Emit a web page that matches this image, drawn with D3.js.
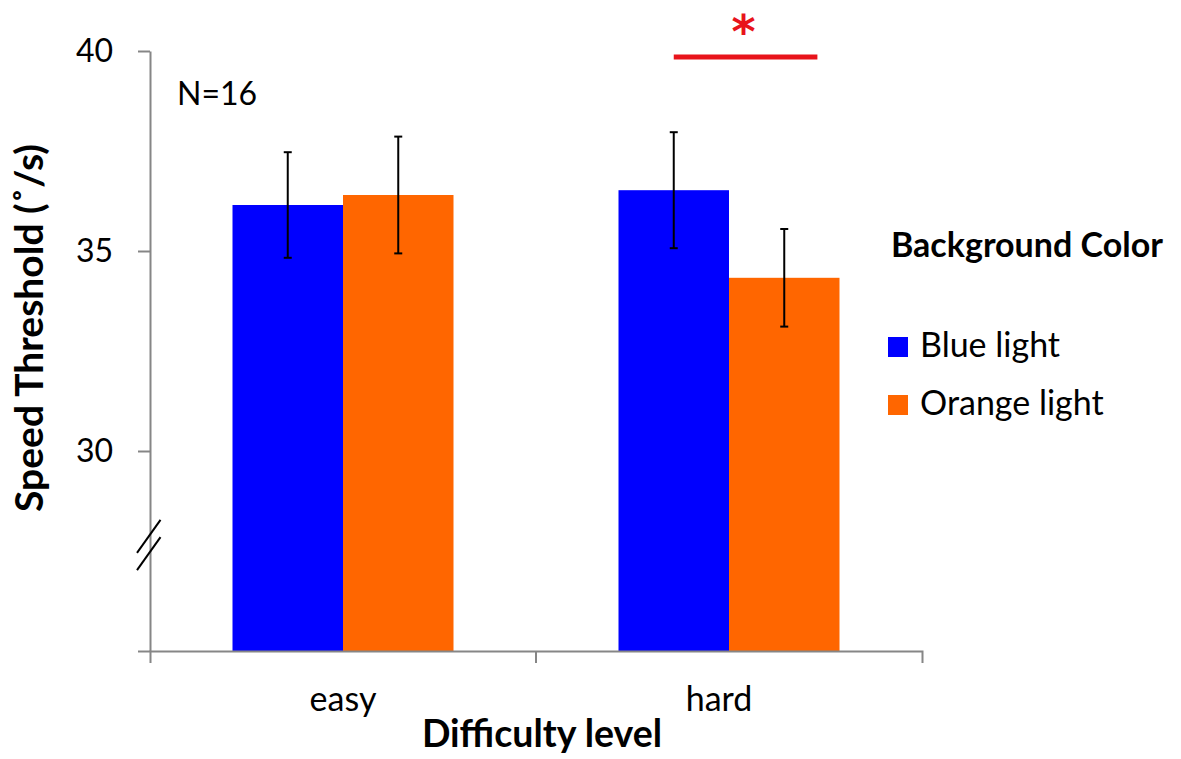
<!DOCTYPE html>
<html>
<head>
<meta charset="utf-8">
<script src="https://cdn.jsdelivr.net/npm/d3@7"></script>
<style>
  body { margin: 0; background: #fff; }
  svg { font-family: Lato, "Open Sans", sans-serif; }
</style>
</head>
<body>
<div id="chart"></div>
<script>
// data
const categories = ["easy", "hard"];
const series = ["Blue light", "Orange light"];
const colors = ["#0000ff", "#ff6600"];
const means = {
  "easy": [36.15, 36.40],
  "hard": [36.52, 34.33]
};
const sems = {
  "easy": [1.32, 1.46],
  "hard": [1.45, 1.22]
};
const yTicks = [25, 30, 35, 40];
const yDomain = [25, 40];
const breakValue = 27.65;
const sigCategory = "hard";
const sigValue = 39.85;
const sampleLabel = "N=16";

const width = 1181, height = 759;
const margin = {top: 51, right: 259, bottom: 108, left: 150};

const svg = d3.select("#chart").append("svg")
  .attr("width", width)
  .attr("height", height);

const x = d3.scaleBand()
  .domain(categories)
  .range([margin.left, width - margin.right])
  .paddingInner(0).paddingOuter(0);

const barW = 110.5;
const x1 = d3.scaleBand()
  .domain(series)
  .range([-barW, barW]);

const y = d3.scaleLinear()
  .domain(yDomain)
  .range([height - margin.bottom, margin.top]);

const axisColor = "#868686";

// bars
const groups = svg.append("g").selectAll("g")
  .data(categories)
  .join("g")
  .attr("transform", d => `translate(${x(d) + x.bandwidth() / 2},0)`);

groups.selectAll("rect")
  .data(c => series.map((s, i) => ({s, i, v: means[c][i], e: sems[c][i]})))
  .join("rect")
  .attr("x", d => x1(d.s))
  .attr("width", x1.bandwidth())
  .attr("y", d => y(d.v))
  .attr("height", d => y(yDomain[0]) - y(d.v))
  .attr("fill", d => colors[d.i]);

// error bars
const capW = 4;
const eb = groups.selectAll("g.err")
  .data(c => series.map((s, i) => ({s, i, v: means[c][i], e: sems[c][i]})))
  .join("g")
  .attr("class", "err")
  .attr("stroke", "#000")
  .attr("stroke-width", 2);
eb.append("line")
  .attr("x1", d => x1(d.s) + x1.bandwidth() / 2)
  .attr("x2", d => x1(d.s) + x1.bandwidth() / 2)
  .attr("y1", d => y(d.v + d.e))
  .attr("y2", d => y(d.v - d.e));
eb.append("line")
  .attr("x1", d => x1(d.s) + x1.bandwidth() / 2 - capW)
  .attr("x2", d => x1(d.s) + x1.bandwidth() / 2 + capW)
  .attr("y1", d => y(d.v + d.e))
  .attr("y2", d => y(d.v + d.e));
eb.append("line")
  .attr("x1", d => x1(d.s) + x1.bandwidth() / 2 - capW)
  .attr("x2", d => x1(d.s) + x1.bandwidth() / 2 + capW)
  .attr("y1", d => y(d.v - d.e))
  .attr("y2", d => y(d.v - d.e));

// y axis
const yAxis = svg.append("g")
  .attr("transform", `translate(${margin.left},0)`)
  .call(d3.axisLeft(y).tickValues(yTicks).tickSize(12).tickSizeOuter(0).tickPadding(25)
    .tickFormat(d => d === yDomain[0] ? "" : d));
yAxis.selectAll("path, line").attr("stroke", axisColor).attr("stroke-width", 2);
yAxis.selectAll("text").attr("font-size", 32).attr("fill", "#000")
  .attr("font-family", "Lato, sans-serif");

// x axis
const xAxis = svg.append("g")
  .attr("transform", `translate(0,${y(yDomain[0])})`)
  .call(d3.axisBottom(x).tickSize(0).tickSizeOuter(12).tickPadding(36));
xAxis.select(".domain").attr("stroke", axisColor).attr("stroke-width", 2);
xAxis.selectAll("text").attr("font-size", 34).attr("fill", "#000")
  .attr("font-family", "Lato, sans-serif")
  .attr("dx", d => d === "hard" ? -10 : 0);
xAxis.selectAll(".sep")
  .data(categories.slice(1))
  .join("line")
  .attr("class", "sep")
  .attr("x1", d => x(d)).attr("x2", d => x(d))
  .attr("y1", 0).attr("y2", 12)
  .attr("stroke", axisColor).attr("stroke-width", 2);

// axis break marks
const by = y(breakValue);
[-8.7, 8.7].forEach(off => {
  svg.append("line")
    .attr("x1", margin.left - 13).attr("y1", by + off + 16.5)
    .attr("x2", margin.left + 10.5).attr("y2", by + off - 16.5)
    .attr("stroke", "#000").attr("stroke-width", 2);
});

// significance marker
const sx1 = x(sigCategory) + x.bandwidth() / 2 + x1(series[0]) + x1.bandwidth() / 2;
const sx2 = x(sigCategory) + x.bandwidth() / 2 + x1(series[1]) + x1.bandwidth() * 0.8;
svg.append("line")
  .attr("x1", sx1).attr("x2", sx2)
  .attr("y1", y(sigValue)).attr("y2", y(sigValue))
  .attr("stroke", "#e8141b").attr("stroke-width", 5);
svg.append("text")
  .attr("x", (sx1 + sx2) / 2 - 2)
  .attr("y", y(sigValue) - 9)
  .attr("text-anchor", "middle")
  .attr("font-family", "'DejaVu Sans', sans-serif")
  .attr("font-size", 46)
  .attr("font-weight", "bold")
  .attr("fill", "#e8141b")
  .text("*");

// N label
svg.append("text")
  .attr("x", 177).attr("y", 105)
  .attr("font-size", 32)
  .text(sampleLabel);

// axis titles
svg.append("text")
  .attr("transform", `translate(43,328) rotate(-90)`)
  .attr("text-anchor", "middle")
  .attr("font-size", 39)
  .attr("font-weight", "bold")
  .text("Speed Threshold (˚/s)");

svg.append("text")
  .attr("x", 542).attr("y", 747)
  .attr("text-anchor", "middle")
  .attr("font-size", 37.5)
  .attr("font-weight", "bold")
  .text("Difficulty level");

// legend
const legend = svg.append("g").attr("transform", "translate(888,257)");
legend.append("text")
  .attr("x", 3).attr("y", 0)
  .attr("font-size", 34)
  .attr("font-weight", "bold")
  .text("Background Color");
const items = legend.selectAll("g.item")
  .data(series)
  .join("g")
  .attr("class", "item")
  .attr("transform", (d, i) => `translate(0,${80 + i * 58})`);
items.append("rect")
  .attr("width", 20).attr("height", 20)
  .attr("fill", (d, i) => colors[i]);
items.append("text")
  .attr("x", 32).attr("y", 20)
  .attr("font-size", 34)
  .text(d => d);
</script>
</body>
</html>
